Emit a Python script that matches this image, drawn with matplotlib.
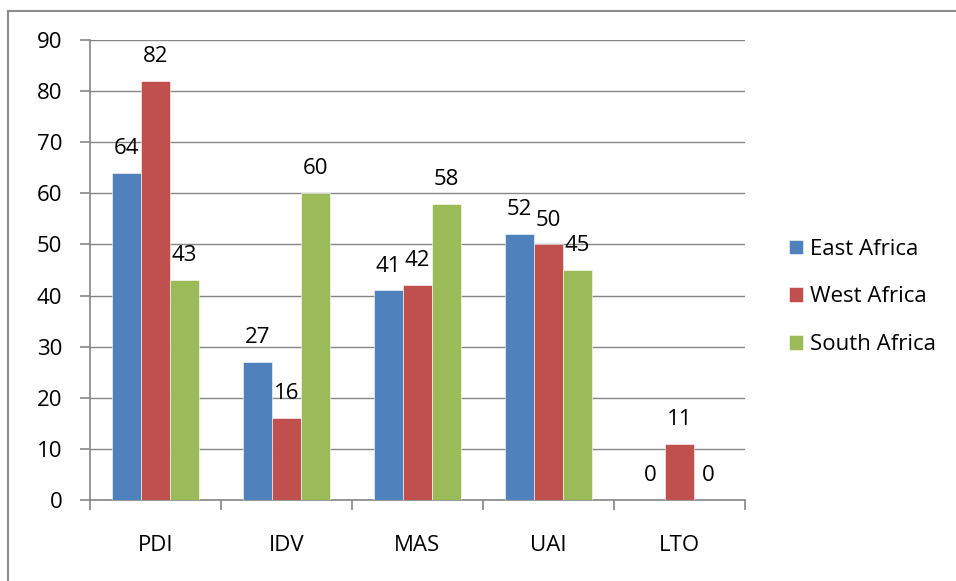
import numpy as np
import matplotlib.pyplot as plt
from matplotlib.lines import Line2D
from matplotlib.ticker import MultipleLocator

plt.rcParams['font.family'] = ['Open Sans', 'DejaVu Sans']

# data
categories = ['PDI', 'IDV', 'MAS', 'UAI', 'LTO']
east = [64, 27, 41, 52, 0]
west = [82, 16, 42, 50, 11]
south = [43, 60, 58, 45, 0]
series_names = ['East Africa', 'West Africa', 'South Africa']

blue = '#4F81BD'
red = '#C0504D'
green = '#9BBB59'
grid_col = '#868686'
font_size = 16

fig = plt.figure(figsize=(9.56, 5.81), dpi=100)
ax = fig.add_axes([90/956, 1-500/581, (745-90)/956, (500-40)/581])

x = np.arange(len(categories))
bw = 0.222
bars = []
for i, (vals, col, name) in enumerate(zip([east, west, south], [blue, red, green], series_names)):
    b = ax.bar(x + (i-1)*bw, vals, width=bw, color=col, edgecolor='white',
               linewidth=0.4, label=name, zorder=3)
    ax.bar_label(b, labels=[str(v) for v in vals], padding=10, fontsize=font_size, color='black')
    bars.append(b)

ax.set_xlim(-0.5, len(categories)-0.5)
ax.set_ylim(0, 90)
ax.yaxis.set_major_locator(MultipleLocator(10))

# 网格和边框
ax.grid(axis='y', color=grid_col, linewidth=1, zorder=0)
for s in ['top', 'right']:
    ax.spines[s].set_visible(False)
for s in ['left', 'bottom']:
    ax.spines[s].set_color(grid_col)
    ax.spines[s].set_linewidth(1.2)

# x刻度：分隔线 + 类别标签
ax.set_xticks(np.arange(len(categories)+1) - 0.5)
ax.set_xticklabels([])
ax.set_xticks(x, minor=True)
ax.set_xticklabels(categories, minor=True)
ax.tick_params(axis='x', which='major', length=7, width=1.2, color=grid_col, direction='out')
ax.tick_params(axis='x', which='minor', length=0, pad=25, labelsize=font_size)
ax.tick_params(axis='y', length=7, width=1.2, color=grid_col, direction='out', pad=13,
               labelsize=font_size)

leg = fig.legend(handles=[b for b in bars], loc='center left', bbox_to_anchor=(769/956, 1-297/581),
                 frameon=False, fontsize=font_size, handlelength=0.65, handleheight=0.65,
                 handletextpad=0.3, labelspacing=1.2)

# 外框（只显示上边和左边）
fig.add_artist(Line2D([8/956, 1], [1-10.5/581, 1-10.5/581], color='#8c8c8c', linewidth=1.5))
fig.add_artist(Line2D([7.5/956, 7.5/956], [0, 1-10.5/581], color='#8c8c8c', linewidth=1.5))

plt.savefig('out.png', dpi=100)
